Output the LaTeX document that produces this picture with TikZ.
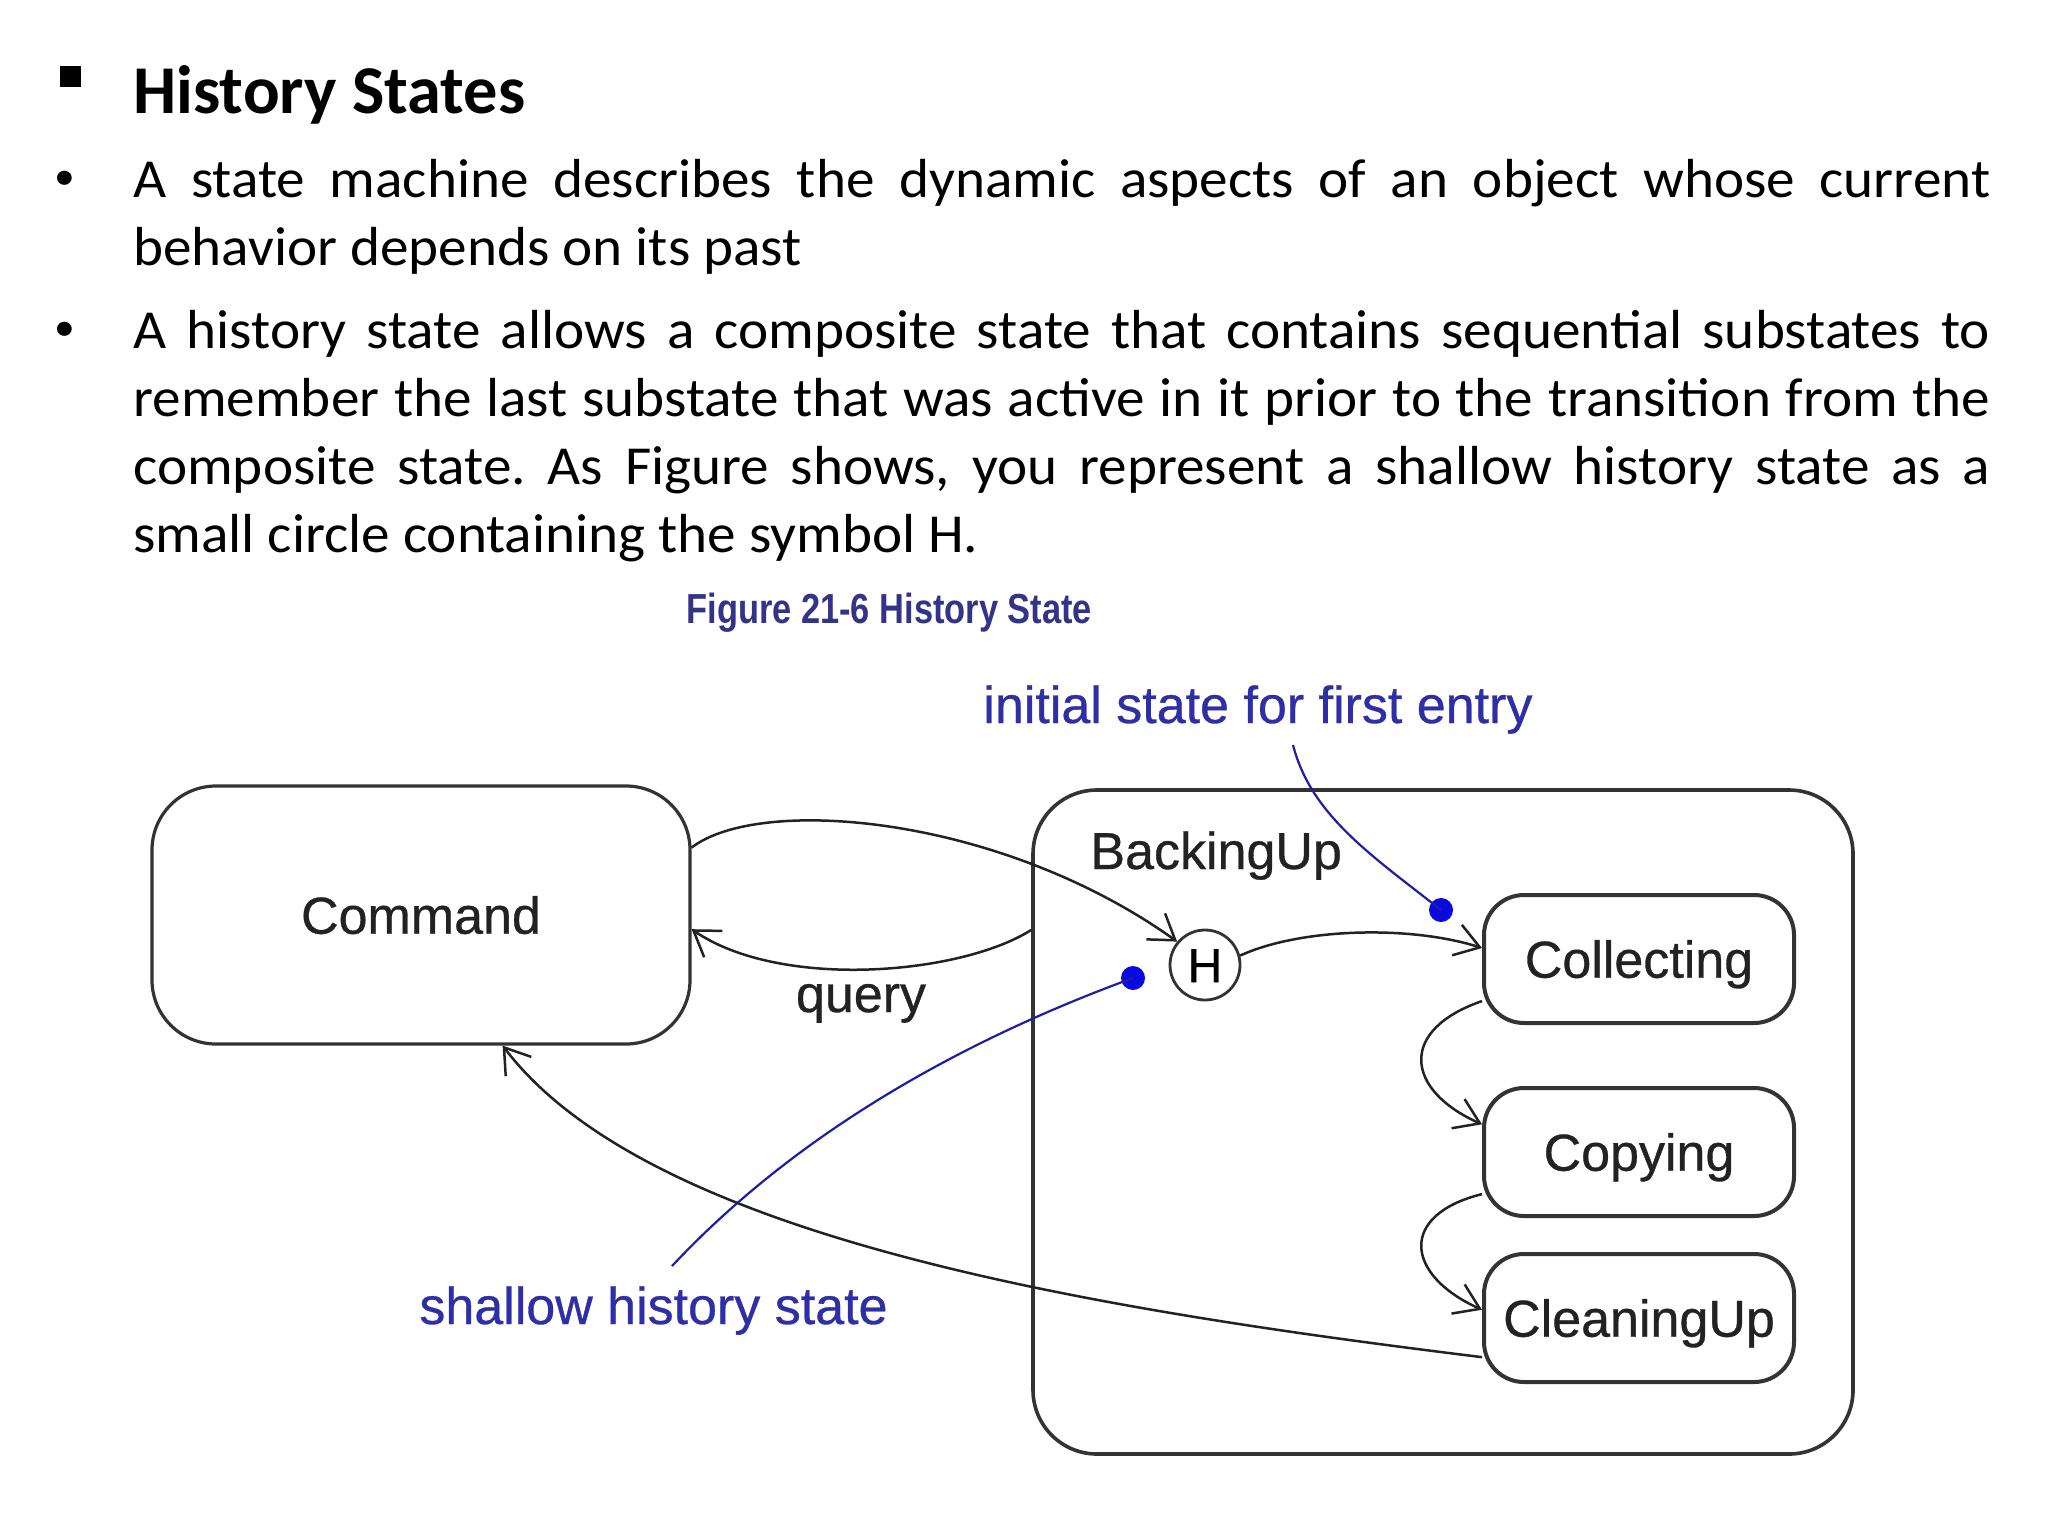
\documentclass[tikz,border=0pt]{standalone}
\usepackage{fontspec}
\setmainfont{Carlito}[FakeStretch=1.04]
\newfontfamily\headfont{Carlito}
\newfontfamily\diagfont[FakeBold=0.6]{Liberation Sans}
\newfontfamily\capfont[FakeStretch=0.82]{Liberation Sans}
\usetikzlibrary{arrows.meta, positioning}
\definecolor{cLine}{HTML}{222222}
\definecolor{cBox}{HTML}{333333}
\definecolor{cCaption}{HTML}{333388}
\definecolor{cNote}{HTML}{2E2EA6}
\definecolor{cPointer}{HTML}{1E1EA0}
\definecolor{cDot}{HTML}{0A0AE0}
\newcommand\bodysize{\fontsize{27.5}{34}\selectfont\frenchspacing}
\newcommand\headsize{\headfont\bfseries\fontsize{34.2}{40}\selectfont}
\newcommand\diagsize{\diagfont\fontsize{26}{30}\selectfont}
\newcommand\capsize{\capfont\bfseries\fontsize{21}{25}\selectfont}
\tikzset{
  square/.style = {
    rectangle,
    fill=black,
    inner sep=0pt,
    minimum size=10.5pt
  },
  heading/.style = {
    anchor=base west,
    inner sep=0pt,
    font=\headsize
  },
  dotmark/.style = {
    anchor=base,
    inner sep=0pt,
    font=\fontsize{20}{20}\selectfont
  },
  para/.style = {
    anchor=base west,
    inner sep=0pt,
    text width=928.5pt,
    align=justify,
    font=\bodysize
  },
  caption/.style = {
    anchor=base west,
    inner sep=0pt,
    text=cCaption,
    font=\capsize
  },
  note/.style = {
    anchor=base west,
    inner sep=0pt,
    text=cNote,
    font=\diagsize
  },
  label/.style = {
    inner sep=0pt,
    text=cLine,
    font=\diagsize
  },
  bigstate/.style = {
    rectangle,
    draw=cBox,
    line width=1.8pt,
    rounded corners=32pt,
    minimum width=410pt,
    minimum height=332pt
  },
  state/.style = {
    rectangle,
    draw=cBox,
    line width=2pt,
    rounded corners=20pt,
    minimum width=155pt,
    minimum height=64pt,
    text=cLine,
    text height=18.7pt,
    text depth=0pt,
    font=\diagsize
  },
  cmdstate/.style = {
    state,
    rounded corners=32pt,
    line width=1.6pt,
    minimum width=269pt,
    minimum height=129pt
  },
  hist/.style = {
    circle,
    draw=cBox,
    line width=1.4pt,
    minimum size=35pt,
    inner sep=0pt,
    text height=17.2pt,
    text depth=0pt,
    font=\diagfont\fontsize{24}{24}\selectfont
  },
  dot/.style = {
    circle,
    fill=cDot,
    inner sep=0pt,
    minimum size=12pt
  },
  line/.style = {
    draw,
    line width=1.25pt,
    color=cLine,
    -{Straight Barb[length=12pt,width=16pt]}
  },
  pointer/.style = {
    draw,
    line width=1.1pt,
    color=cPointer
  },
}

\begin{document}
\begin{tikzpicture}[x=0.5pt, y=-0.5pt]
    \fill[white] (0,0) rectangle (2048,1536);
    \useasboundingbox (0,0) rectangle (2048,1536);
    % slide text
    \node [square] (mark-0) at (70.5,76.5) {};
    \node [heading] (title) at (133,113) {History States};
    \node [dotmark] (mark-1) at (65,189) {•};
    \node [para] (text-1) at (133,197) {\hyphenpenalty=10000 A state machine describes the dynamic aspects of an object whose current\linebreak behavior depends on its past};
    \node [dotmark] (mark-2) at (65,340) {•};
    \node [para] (text-2) at (133,348) {\hyphenpenalty=10000 A history state allows a composite state that contains sequential substates to\linebreak remember the last substate that was active in it prior to the transition from the\linebreak composite state. As Figure shows, you represent a shallow history state as a\linebreak small circle containing the symbol H.};
    % figure
    \node [caption] (caption) at (686,623) {Figure 21-6 History State};
    \node [cmdstate] (command) at (421,915) {Command};
    \node [bigstate] (backup) at (1443,1122) {};
    \node [label, anchor=base west] (backup-name) at (1090,869) {BackingUp};
    \node [hist] (history) at (1205,965) {H};
    \node [state] (state-1) at (1639,959) {Collecting};
    \node [state, below=30.5pt of state-1] (state-2) {Copying};
    \node [state, below=17pt of state-2] (state-3) {CleaningUp};
    \node [label, anchor=base] (query) at (861,1012) {query};
    \node [note] (note-1) at (983,723) {initial state for first entry};
    \node [note] (note-2) at (419,1324) {shallow history state};
    \node [dot] (dot-1) at (1441,910) {};
    \node [dot] (dot-2) at (1133,978) {};
    \coordinate (tail-1) at (1293,745);
    \coordinate (tail-2) at (672,1266);
    \path [line] (command.14) .. controls (760,795) and (1000,815) .. (history.140);
    \path [line] (backup.155) .. controls (960,975) and (780,990) .. (command.-3);
    \path [line] (history.15) .. controls (1300,928) and (1410,925) .. (state-1.176);
    \path [line] (state-1.195) .. controls (1398,1030) and (1405,1090) .. (state-2.170);
    \path [line] (state-2.195) .. controls (1398,1215) and (1405,1275) .. (state-3.177);
    \path [line] (state-3.194) .. controls (1100,1310) and (650,1240) .. (command.-58);
    \path [pointer] (tail-1) .. controls (1311,815) and (1371,855) .. (dot-1.center);
    \path [pointer] (tail-2) .. controls (790,1140) and (950,1045) .. (dot-2.center);
\end{tikzpicture}
\end{document}
